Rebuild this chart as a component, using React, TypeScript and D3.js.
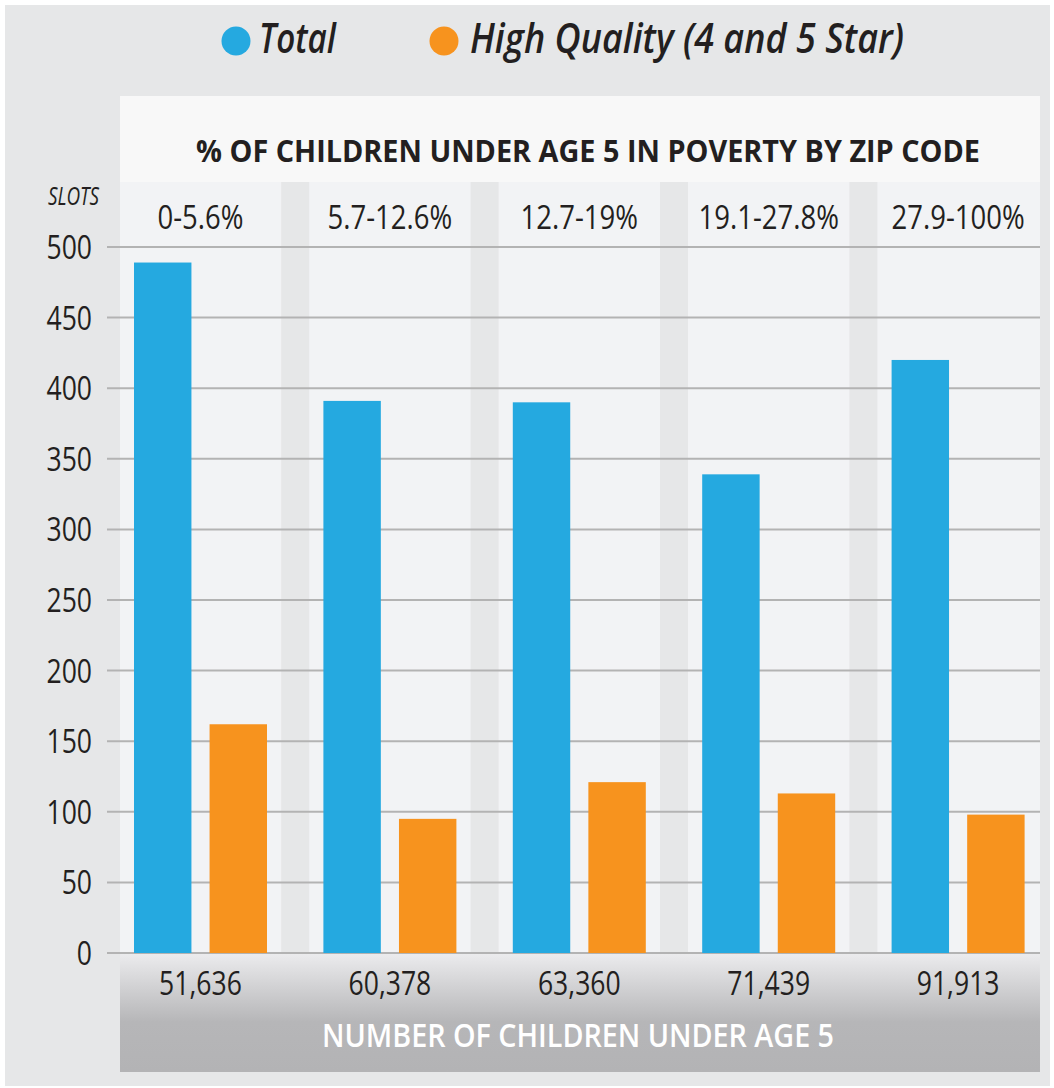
import React from "react";
import * as d3 from "d3";

const categories = ["0-5.6%", "5.7-12.6%", "12.7-19%", "19.1-27.8%", "27.9-100%"];
const seriesNames = ["Total", "High Quality (4 and 5 Star)"];
const totalSlots = [489, 391, 390, 339, 420];
const highQualitySlots = [162, 95, 121, 113, 98];
const childrenUnder5 = [51636, 60378, 63360, 71439, 91913];
const yTicks = [0, 50, 100, 150, 200, 250, 300, 350, 400, 450, 500];

const W = 1054;
const H = 1088;
const BLUE = "#25a9e0";
const ORANGE = "#f7931e";
const TEXT = "#231f20";
const FONT = "'Open Sans', 'Noto Sans', sans-serif";

function SText(props: {
  x: number; y: number; sx?: number; size: number; anchor?: string;
  weight?: number; italic?: boolean; fill?: string; children: React.ReactNode; len?: number;
}) {
  const { x, y, sx = 0.86, size, anchor = "middle", weight = 400, italic, fill = TEXT, children, len } = props;
  return (
    <text
      transform={`translate(${x},${y}) scale(${len ? 1 : sx},1)`}
      textAnchor={anchor}
      fontFamily={FONT}
      fontSize={size}
      fontWeight={weight}
      fontStyle={italic ? "italic" : "normal"}
      fill={fill}
      textLength={len}
      lengthAdjust={len ? "spacingAndGlyphs" : undefined}
    >
      {children}
    </text>
  );
}

export default function App() {
  const y = d3.scaleLinear().domain([0, 500]).range([953, 247]);
  const x = d3.scaleBand<string>().domain(categories).range([105.8, 1052.8]).padding(0);
  const xs = d3.scaleBand<string>().domain(seriesNames).range([-66.5, 66.5]).paddingInner(0.24);
  const fmt = d3.format(",");
  const panelL = 120;
  const panelR = 1040;
  const seriesValues = [totalSlots, highQualitySlots];
  const colors = [BLUE, ORANGE];

  return (
    <svg width={W} height={H} style={{ position: "absolute", left: 0, top: 0 }}>
      <defs>
        <linearGradient id="bottomGrad" x1="0" y1="0" x2="0" y2="1">
          <stop offset="0" stopColor="#ececee" />
          <stop offset="0.58" stopColor="#b6b6b8" />
          <stop offset="1" stopColor="#b3b3b5" />
        </linearGradient>
      </defs>
      <rect x={0} y={0} width={W} height={H} fill="#ffffff" />
      <rect x={5} y={5} width={1045} height={1081} fill="#e6e7e8" />
      {/* title band */}
      <rect x={panelL} y={96} width={panelR - panelL} height={86} fill="#f8f8f8" />
      {/* plot bg */}
      <rect x={panelL} y={182} width={panelR - panelL} height={771} fill="#f2f3f5" />
      {/* separators */}
      {categories.slice(1).map((c) => (
        <rect key={c} x={(x(c) as number) - 14} y={182} width={28} height={771} fill="#e6e7e8" />
      ))}
      {/* bottom band */}
      <rect x={panelL} y={953} width={panelR - panelL} height={119} fill="url(#bottomGrad)" />

      {/* legend */}
      <circle cx={236} cy={41} r={14.5} fill={BLUE} />
      <SText x={259} y={53} size={42} weight={600} italic anchor="start" len={77}>{seriesNames[0]}</SText>
      <circle cx={444} cy={41} r={14.5} fill={ORANGE} />
      <SText x={470} y={53} size={42} weight={600} italic anchor="start" len={434}>{seriesNames[1]}</SText>

      {/* title */}
      <SText x={588} y={162} size={31} weight={700} len={784}>% OF CHILDREN UNDER AGE 5 IN POVERTY BY ZIP CODE</SText>

      {/* gridlines */}
      {yTicks.map((t) => (
        <line key={t} x1={107} x2={panelR} y1={y(t)} y2={y(t)} stroke="#b3b3b3" strokeWidth={2} />
      ))}
      {/* y tick labels */}
      {yTicks.map((t) => (
        <SText key={t} x={92} y={y(t) + 12} size={32} anchor="end" sx={0.83}>{t}</SText>
      ))}
      <SText x={48} y={205} size={25} italic anchor="start" len={51}>SLOTS</SText>

      {/* category labels */}
      {categories.map((c) => (
        <SText key={c} x={(x(c) as number) + x.bandwidth() / 2} y={229} size={32} sx={0.86}>{c}</SText>
      ))}

      {/* bars */}
      {categories.map((c, i) => {
        const cx = (x(c) as number) + x.bandwidth() / 2;
        return seriesNames.map((s, j) => {
          const v = seriesValues[j][i];
          return (
            <rect
              key={c + s}
              x={cx + (xs(s) as number)}
              y={y(v)}
              width={xs.bandwidth()}
              height={y(0) - y(v)}
              fill={colors[j]}
            />
          );
        });
      })}

      {/* bottom numbers */}
      {categories.map((c, i) => (
        <SText key={c} x={(x(c) as number) + x.bandwidth() / 2} y={995} size={32} sx={0.83}>{fmt(childrenUnder5[i])}</SText>
      ))}
      <SText x={578} y={1047} size={33} weight={600} fill="#ffffff" len={512}>NUMBER OF CHILDREN UNDER AGE 5</SText>
    </svg>
  );
}
